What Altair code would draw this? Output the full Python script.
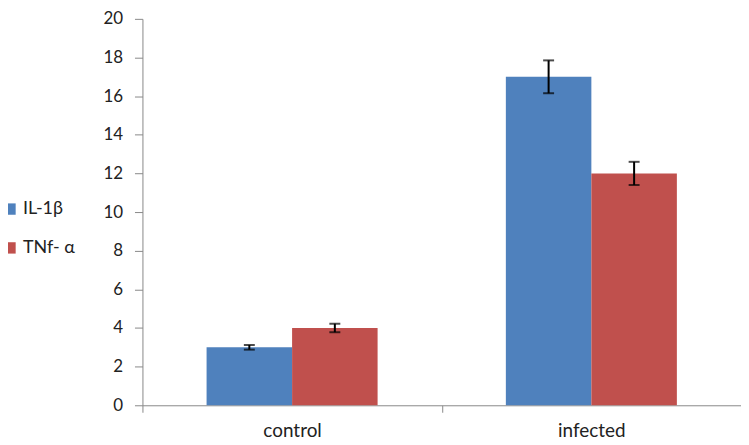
import altair as alt
import pandas as pd

groups = ["control", "infected"]
series = ["IL-1β", "TNf- α"]
il1b = [3.0, 17.0]
il1b_err = [0.12, 0.85]
tnf = [4.0, 12.0]
tnf_err = [0.22, 0.6]
colors = ["#4F81BD", "#C0504D"]
yticks = [0, 2, 4, 6, 8, 10, 12, 14, 16, 18, 20]

rows = []
for i, g in enumerate(groups):
    rows.append({"group": g, "series": series[0], "value": il1b[i], "err": il1b_err[i]})
    rows.append({"group": g, "series": series[1], "value": tnf[i], "err": tnf_err[i]})
df = pd.DataFrame(rows)
df["lo"] = df["value"] - df["err"]
df["hi"] = df["value"] + df["err"]

FONT = "Lato"

x = alt.X("group:N", sort=groups, title=None,
          scale=alt.Scale(paddingInner=0, paddingOuter=0),
          axis=alt.Axis(labelAngle=0, tickBand="extent", labelFontSize=19, labelFont=FONT,
                        labelColor="#222222", domainColor="#888888", tickColor="#888888",
                        tickSize=7, labelPadding=9, grid=False))
xo = alt.XOffset("series:N", sort=series,
                 scale=alt.Scale(paddingInner=0, paddingOuter=0.75))
yscale = alt.Scale(domain=[0, 20], nice=False)
yaxis = alt.Axis(values=yticks, grid=False, labelFontSize=17,
                 labelFont=FONT, labelColor="#222222", domainColor="#888888",
                 tickColor="#888888", tickSize=8, labelPadding=12,
                 labelOverlap=False)

bars = alt.Chart(df).mark_bar().encode(
    x=x, xOffset=xo,
    y=alt.Y("value:Q", scale=yscale, title=None, axis=yaxis),
    color=alt.Color("series:N", sort=series,
                    scale=alt.Scale(domain=series, range=colors),
                    legend=alt.Legend(title=None, orient="none", legendX=-142, legendY=182,
                                      symbolType="square", symbolSize=130, symbolStrokeWidth=0,
                                      labelFontSize=18, labelFont=FONT, labelColor="#222222",
                                      rowPadding=21, labelOffset=4)),
)

rules = alt.Chart(df).mark_rule(color="black", strokeWidth=2).encode(
    x=x, xOffset=xo, y=alt.Y("lo:Q", scale=yscale, title=None, axis=yaxis), y2="hi:Q")
caps_lo = alt.Chart(df).mark_tick(color="black", thickness=2, size=11).encode(
    x=x, xOffset=xo, y=alt.Y("lo:Q", scale=yscale, title=None, axis=yaxis))
caps_hi = alt.Chart(df).mark_tick(color="black", thickness=2, size=11).encode(
    x=x, xOffset=xo, y=alt.Y("hi:Q", scale=yscale, title=None, axis=yaxis))

chart = alt.layer(bars, rules, caps_lo, caps_hi).properties(
    width=601, height=388,
    autosize=alt.AutoSizeParams(type="none"),
    padding={"left": 135, "top": 10, "right": 0, "bottom": 39},
).configure_view(stroke=None).configure_axis(labelOverlap=False)

chart.save("out.html", embed_options={"renderer": "svg", "actions": False})
